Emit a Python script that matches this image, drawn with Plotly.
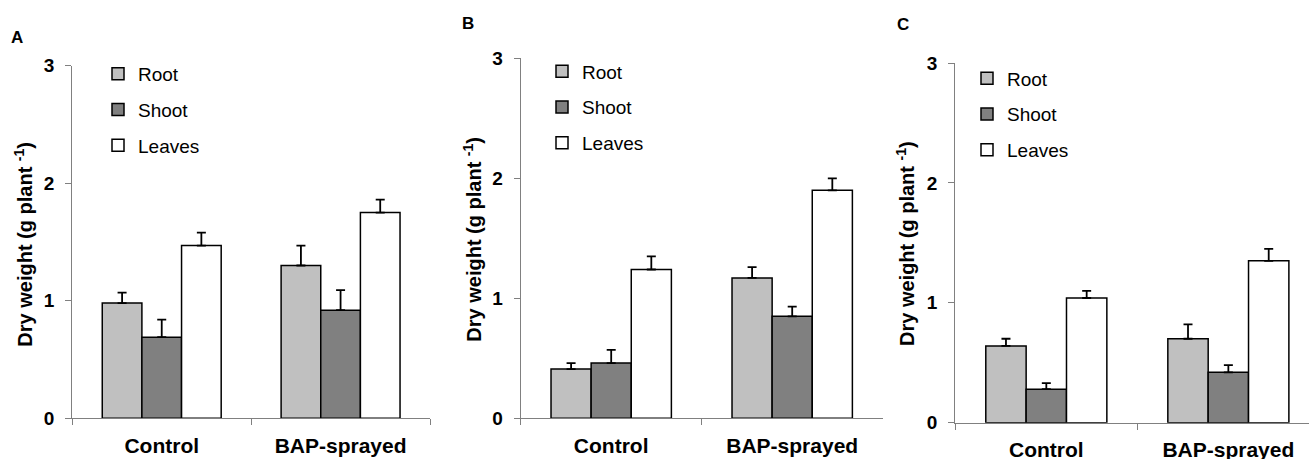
import plotly.graph_objects as go

# Dry weight per plant (g) for three experiments, two treatments each
treatments = ["Control", "BAP-sprayed"]
organs = ["Root", "Shoot", "Leaves"]
organ_colors = {"Root": "#C0C0C0", "Shoot": "#808080", "Leaves": "#FFFFFF"}

a_root = [0.98, 1.30]
a_shoot = [0.69, 0.92]
a_leaves = [1.47, 1.75]
a_root_se = [0.09, 0.17]
a_shoot_se = [0.15, 0.17]
a_leaves_se = [0.11, 0.11]

b_root = [0.41, 1.17]
b_shoot = [0.46, 0.85]
b_leaves = [1.24, 1.90]
b_root_se = [0.05, 0.09]
b_shoot_se = [0.11, 0.08]
b_leaves_se = [0.11, 0.10]

c_root = [0.64, 0.70]
c_shoot = [0.28, 0.42]
c_leaves = [1.04, 1.35]
c_root_se = [0.06, 0.12]
c_shoot_se = [0.05, 0.06]
c_leaves_se = [0.06, 0.10]

y_ticks = [0, 1, 2, 3]
y_title = "Dry weight (g plant <sup>-1</sup>)"
panel_letters = ["A", "B", "C"]

W, H = 1309, 459
FONT = "Arial, Liberation Sans, sans-serif"

panels = [
    {"vals": [a_root, a_shoot, a_leaves], "errs": [a_root_se, a_shoot_se, a_leaves_se],
     "x0": 72.3, "x1": 430.0, "ytop": 65.7, "ybot": 418.3, "xr": 1.5,
     "legend": (98, 55), "title_x": 22.7, "title_y": 244, "letter": (16.7, 37.7)},
    {"vals": [b_root, b_shoot, b_leaves], "errs": [b_root_se, b_shoot_se, b_leaves_se],
     "x0": 520.7, "x1": 882.7, "ytop": 58.3, "ybot": 418.3, "xr": 1.5,
     "legend": (542, 52.5), "title_x": 471.7, "title_y": 239, "letter": (468.3, 23)},
    {"vals": [c_root, c_shoot, c_leaves], "errs": [c_root_se, c_shoot_se, c_leaves_se],
     "x0": 955.3, "x1": 1309.0, "ytop": 63.0, "ybot": 422.7, "xr": 1.443,
     "legend": (967, 59.5), "title_x": 905, "title_y": 243, "letter": (903.3, 24)},
]

fig = go.Figure()
layout = {}
annotations = []

for i, p in enumerate(panels):
    n = "" if i == 0 else str(i + 1)
    xa, ya = "x" + n, "y" + n
    leg = "legend" + n
    for organ, vals, errs in zip(organs, p["vals"], p["errs"]):
        fig.add_trace(go.Bar(
            x=treatments, y=vals, name=organ,
            xaxis=xa, yaxis=ya, legend=leg, legendgroup=organ + n,
            marker=dict(color=organ_colors[organ], line=dict(color="black", width=1.5)),
            error_y=dict(type="data", array=errs, arrayminus=[0] * len(errs), symmetric=False,
                         color="black", thickness=1.8, width=4.5),
        ))
    layout["xaxis" + n] = dict(
        domain=[p["x0"] / W, p["x1"] / W], anchor=ya, type="category",
        range=[-0.5, p["xr"]], tickson="boundaries", ticks="outside", ticklen=6,
        tickcolor="#808080", showline=True, linecolor="#808080", linewidth=1.2,
        tickfont=dict(family=FONT, size=21, color="black", weight="bold"),
        ticklabelstandoff=8, showgrid=False, zeroline=False, fixedrange=True,
        automargin=False,
    )
    layout["yaxis" + n] = dict(
        domain=[(H - p["ybot"]) / H, (H - p["ytop"]) / H], anchor=xa,
        range=[0, 3], tickvals=y_ticks, ticks="outside", ticklen=6,
        tickcolor="#808080", showline=True, linecolor="#808080", linewidth=1.2,
        tickfont=dict(family=FONT, size=19, color="black", weight="bold"),
        ticklabelstandoff=7, showgrid=False, zeroline=False, fixedrange=True,
        automargin=False,
    )
    lx, ly = p["legend"]
    layout[leg] = dict(
        x=lx / W, y=(H - ly) / H, xanchor="left", yanchor="top",
        font=dict(family=FONT, size=19, color="black"),
        bgcolor="rgba(0,0,0,0)", borderwidth=0, tracegroupgap=8,
        traceorder="grouped",
    )
    annotations.append(dict(
        text=y_title, x=p["title_x"] / W, y=(H - p["title_y"]) / H,
        xref="paper", yref="paper", xanchor="center", yanchor="middle",
        textangle=-90, showarrow=False,
        font=dict(family=FONT, size=20, color="black", weight="bold"),
    ))
    annotations.append(dict(
        text=panel_letters[i], x=p["letter"][0] / W, y=(H - p["letter"][1]) / H,
        xref="paper", yref="paper", xanchor="center", yanchor="middle",
        showarrow=False, font=dict(family=FONT, size=17, color="black", weight="bold"),
    ))

fig.update_layout(
    width=W, height=H, margin=dict(l=0, r=0, t=0, b=0, autoexpand=False),
    paper_bgcolor="white", plot_bgcolor="white",
    barmode="group", bargap=0.335, bargroupgap=0,
    showlegend=True, annotations=annotations, **layout,
)

fig.write_html("out.html")
